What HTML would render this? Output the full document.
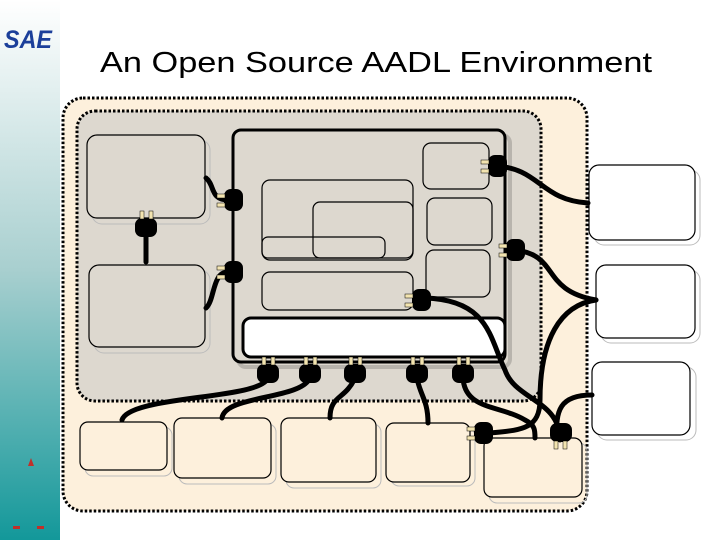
<!DOCTYPE html>
<html><head><meta charset="utf-8"><style>
body{margin:0;width:720px;height:540px;overflow:hidden;background:#fff;font-family:"Liberation Sans",sans-serif}
</style></head><body>
<svg width="720" height="540" xmlns="http://www.w3.org/2000/svg" style="position:absolute;left:0;top:0">
<defs>
<linearGradient id="g" x1="0" y1="0" x2="0" y2="1">
<stop offset="0" stop-color="#ffffff"/><stop offset="0.5" stop-color="#a8cfcf"/><stop offset="1" stop-color="#13989a"/>
</linearGradient>
<g id="plugR"><rect x="-2" y="-11" width="19" height="22" rx="7" fill="#000"/><rect x="-9" y="-6" width="8" height="4" fill="#f3e4b0" stroke="#000" stroke-width=".5"/><rect x="-9" y="3" width="8" height="4" fill="#f3e4b0" stroke="#000" stroke-width=".5"/></g>
<g id="plugD"><rect x="-11" y="-2" width="22" height="19" rx="7" fill="#000"/><rect x="-6" y="-9" width="4" height="8" fill="#f3e4b0" stroke="#000" stroke-width=".5"/><rect x="3" y="-9" width="4" height="8" fill="#f3e4b0" stroke="#000" stroke-width=".5"/></g>
</defs>
<rect x="0" y="0" width="60" height="540" fill="url(#g)"/>
<text x="4" y="48" font-size="25" font-weight="bold" font-style="italic" fill="#1b3f9a" font-family="Liberation Sans,sans-serif" textLength="48" lengthAdjust="spacingAndGlyphs">SAE</text>
<rect x="13" y="526" width="7" height="3" fill="#c0302a"/><rect x="37" y="526" width="7" height="3" fill="#c0302a"/>
<path d="M28 466 l3 -8 l3 8z" fill="#c0302a"/>
<text x="100" y="72" font-size="29" fill="#000" textLength="552" lengthAdjust="spacingAndGlyphs">An Open Source AADL Environment</text>

<rect x="63" y="98" width="524" height="413" rx="20" fill="#fdf0dc" stroke="#000" stroke-width="3" stroke-dasharray="2.5 2"/>
<rect x="77" y="111" width="464" height="290" rx="18" fill="#ddd8cf" stroke="#000" stroke-width="3" stroke-dasharray="2.5 2"/>

<g fill="none" stroke-width="1">
<g stroke="#bbb"><rect x="92" y="140" width="118" height="84" rx="10"/><rect x="94" y="270" width="116" height="83" rx="10"/>
<rect x="594" y="170" width="106" height="75" rx="10"/><rect x="601" y="270" width="99" height="73" rx="10"/><rect x="597" y="367" width="99" height="73" rx="10"/>
<rect x="85" y="427" width="87" height="49" rx="8"/><rect x="179" y="424" width="97" height="60" rx="8"/><rect x="286" y="424" width="95" height="64" rx="8"/><rect x="391" y="428" width="84" height="58" rx="8"/><rect x="489" y="443" width="98" height="60" rx="8"/>
<rect x="428" y="148" width="66" height="46" rx="8"/><rect x="432" y="203" width="65" height="47" rx="8"/><rect x="431" y="255" width="64" height="47" rx="8"/>
<rect x="267" y="186" width="151" height="79" rx="8"/><rect x="267" y="277" width="151" height="38" rx="8"/></g>
</g>
<rect x="238" y="135" width="272" height="232" rx="8" fill="none" stroke="#b8b4ad" stroke-width="4"/>
<rect x="233" y="130" width="272" height="232" rx="8" fill="#ddd8cf" stroke="#000" stroke-width="3"/>
<g stroke="#000" stroke-width="1.2">
<rect x="87" y="135" width="118" height="83" rx="10" fill="#ddd8cf"/><rect x="89" y="265" width="116" height="82" rx="10" fill="#ddd8cf"/>
<rect x="589" y="165" width="106" height="75" rx="10" fill="#fff"/><rect x="596" y="265" width="99" height="73" rx="10" fill="#fff"/><rect x="592" y="362" width="98" height="73" rx="10" fill="#fff"/>
<rect x="80" y="422" width="87" height="48" rx="8" fill="#fdf0dc"/><rect x="174" y="418" width="97" height="60" rx="8" fill="#fdf0dc"/><rect x="281" y="418" width="95" height="64" rx="8" fill="#fdf0dc"/><rect x="386" y="423" width="84" height="59" rx="8" fill="#fdf0dc"/><rect x="484" y="438" width="98" height="59" rx="8" fill="#fdf0dc"/>
<rect x="423" y="143" width="66" height="46" rx="8" fill="#ddd8cf"/><rect x="427" y="198" width="65" height="47" rx="8" fill="#ddd8cf"/><rect x="426" y="250" width="64" height="47" rx="8" fill="#ddd8cf"/>
<rect x="262" y="180" width="151" height="80" rx="8" fill="#ddd8cf"/><rect x="313" y="202" width="100" height="56" rx="7" fill="none"/><rect x="262" y="237" width="123" height="21" rx="6" fill="none"/>
<rect x="262" y="272" width="151" height="38" rx="8" fill="#ddd8cf"/>
</g>
<rect x="243" y="318" width="262" height="39" rx="8" fill="#fff" stroke="#000" stroke-width="3"/>

<g fill="none" stroke="#000" stroke-width="5" stroke-linecap="round">
<path d="M206 178 C215 185 210 200 228 200"/>
<path d="M146 230 L146 262"/>
<path d="M206 308 C215 300 212 272 228 272"/>
<path d="M495 166 C540 168 540 200 588 203"/>
<path d="M515 250 C560 255 540 290 596 300"/>
<path d="M425 298 C490 300 490 340 505 370 C515 400 560 400 560 440"/>
<path d="M596 300 C560 305 540 340 540 400 C540 430 520 430 490 433"/>
<path d="M592 395 C560 395 555 410 557 440"/>
<path d="M268 378 C260 400 130 395 122 420"/>
<path d="M310 378 C300 400 225 395 222 418"/>
<path d="M355 378 C345 400 330 395 330 418"/>
<path d="M417 378 C420 395 428 400 428 423"/>
<path d="M463 378 C465 410 500 405 525 420 C535 425 535 430 535 438"/>
</g>
<use href="#plugR" x="226" y="200"/><use href="#plugD" x="146" y="220"/><use href="#plugR" x="226" y="272"/>
<use href="#plugR" x="490" y="166"/><use href="#plugR" x="508" y="250"/><use href="#plugR" x="414" y="300"/>
<use href="#plugR" x="476" y="433"/><use href="#plugD" x="561" y="440" transform="rotate(180 561 440)"/>
<use href="#plugD" x="268" y="366"/><use href="#plugD" x="310" y="366"/><use href="#plugD" x="355" y="366"/><use href="#plugD" x="417" y="366"/><use href="#plugD" x="463" y="366"/>
</svg>
</body></html>
